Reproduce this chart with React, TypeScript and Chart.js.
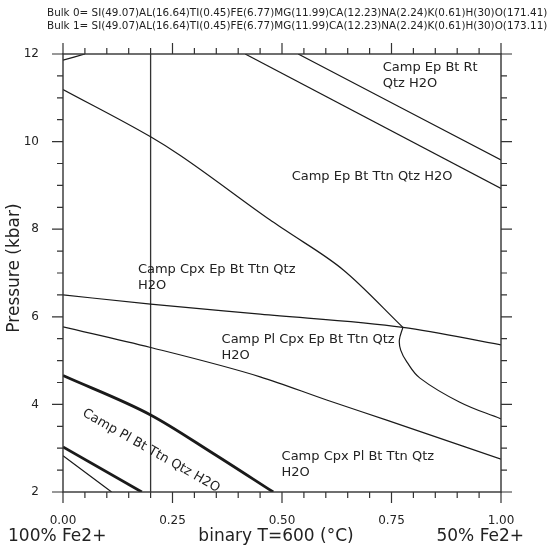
import React, { useEffect, useRef } from "react";
import { Chart, registerables } from "chart.js";

Chart.register(...registerables);

// ---------- axis ranges & ticks ----------
const xRange = [0, 1];
const yRange = [2, 12];
const xTickStep = 0.05;
const yTickStep = 0.5;
const xLabelEvery = 0.25;
const yLabelEvery = 2;

// ---------- texts ----------
const headerLines = [
  "Bulk 0= SI(49.07)AL(16.64)TI(0.45)FE(6.77)MG(11.99)CA(12.23)NA(2.24)K(0.61)H(30)O(171.41)",
  "Bulk 1= SI(49.07)AL(16.64)TI(0.45)FE(6.77)MG(11.99)CA(12.23)NA(2.24)K(0.61)H(30)O(173.11)",
];
const xAxisTitle = "binary T=600 (°C)";
const yAxisTitle = "Pressure (kbar)";
const leftEndLabel = "100% Fe2+";
const rightEndLabel = "50% Fe2+";

// ---------- phase boundaries (x = composition, y = P kbar) ----------
const b1X = [0, 0.05];
const b1Y = [11.86, 12.0];

const b2X = [0, 0.2, 0.267, 0.473, 0.507, 0.64, 0.776];
const b2Y = [11.19, 10.11, 9.69, 8.21, 7.98, 7.07, 5.76];

const b3X = [0.416, 1.0];
const b3Y = [12.0, 8.93];

const b4X = [0.537, 1.0];
const b4Y = [12.0, 9.58];

const b5X = [0, 0.2, 0.45, 0.776, 1.0];
const b5Y = [6.5, 6.29, 6.06, 5.76, 5.36];

const b6X = [0.776, 0.768, 0.771, 0.785, 0.815, 0.906, 1.0];
const b6Y = [5.76, 5.47, 5.24, 4.97, 4.6, 4.05, 3.67];

const b7X = [0, 0.2, 0.45, 0.602, 0.739, 1.0];
const b7Y = [5.77, 5.3, 4.63, 4.1, 3.64, 2.75];

const b8X = [0, 0.2, 0.343, 0.48];
const b8Y = [4.66, 3.76, 2.88, 2.0];

const b9X = [0, 0.18];
const b9Y = [3.03, 2.0];

const b10X = [0, 0.111];
const b10Y = [2.83, 2.0];

const sectionX = [0.2, 0.2];
const sectionY = [2, 12];

// ---------- field labels ----------
const fieldText = [
  "Camp Ep Bt Rt\nQtz H2O",
  "Camp Ep Bt Ttn Qtz H2O",
  "Camp Cpx Ep Bt Ttn Qtz\nH2O",
  "Camp Pl Cpx Ep Bt Ttn Qtz\nH2O",
  "Camp Cpx Pl Bt Ttn Qtz\nH2O",
  "Camp Pl Bt Ttn Qtz H2O",
];
const fieldX = [0.73, 0.522, 0.171, 0.362, 0.499, 0.201];
const fieldY = [11.68, 9.2, 7.07, 5.47, 2.8, 2.94];
const fieldAngle = [0, 0, 0, 0, 0, 29.6];

const toPts = (xs: number[], ys: number[]) => xs.map((x, i) => ({ x, y: ys[i] }));

const FONT = "'DejaVu Sans', sans-serif";
const INK = "#222";

const overlay = {
  id: "overlay",
  afterDraw(chart: any) {
    const { ctx, chartArea: a, scales } = chart;
    const xs = scales.x;
    const ys = scales.y;
    ctx.save();
    // frame
    ctx.strokeStyle = "#333";
    ctx.lineWidth = 1.4;
    ctx.strokeRect(a.left, a.top, a.right - a.left, a.bottom - a.top);
    // tick marks
    ctx.lineWidth = 1.2;
    ctx.beginPath();
    xs.ticks.forEach((t: any) => {
      const px = xs.getPixelForValue(t.value);
      const major = Math.abs(t.value / xLabelEvery - Math.round(t.value / xLabelEvery)) < 1e-6;
      const len = major ? 11 : 6;
      ctx.moveTo(px, a.bottom);
      ctx.lineTo(px, a.bottom + len);
      ctx.moveTo(px, a.top);
      ctx.lineTo(px, a.top - len);
    });
    ys.ticks.forEach((t: any) => {
      const py = ys.getPixelForValue(t.value);
      const major = Math.abs(t.value / yLabelEvery - Math.round(t.value / yLabelEvery)) < 1e-6;
      const len = major ? 11 : 6;
      ctx.moveTo(a.left, py);
      ctx.lineTo(a.left - len, py);
      ctx.moveTo(a.right, py);
      ctx.lineTo(a.right + len, py);
    });
    ctx.stroke();

    ctx.fillStyle = INK;
    // header
    ctx.font = `10.4px ${FONT}`;
    ctx.textBaseline = "middle";
    ctx.textAlign = "left";
    headerLines.forEach((l, i) => ctx.fillText(l, 47, 13 + i * 13));

    // axis titles
    ctx.font = `17px ${FONT}`;
    ctx.textAlign = "center";
    ctx.fillText(xAxisTitle, 276, 537);
    ctx.textAlign = "left";
    ctx.fillText(leftEndLabel, 8, 537);
    ctx.textAlign = "right";
    ctx.fillText(rightEndLabel, 524, 537);
    ctx.save();
    ctx.translate(15, 268);
    ctx.rotate(-Math.PI / 2);
    ctx.textAlign = "center";
    ctx.fillText(yAxisTitle, 0, 0);
    ctx.restore();

    // field labels
    ctx.font = `13px ${FONT}`;
    fieldText.forEach((txt, i) => {
      const px = xs.getPixelForValue(fieldX[i]);
      const py = ys.getPixelForValue(fieldY[i]);
      const lines = txt.split("\n");
      ctx.save();
      ctx.translate(px, py);
      if (fieldAngle[i]) {
        ctx.rotate((fieldAngle[i] * Math.PI) / 180);
        ctx.textAlign = "center";
      } else {
        ctx.textAlign = "left";
      }
      lines.forEach((l, j) => ctx.fillText(l, 0, j * 16));
      ctx.restore();
    });
    ctx.restore();
  },
};

export default function App() {
  const ref = useRef<HTMLCanvasElement | null>(null);
  useEffect(() => {
    if (!ref.current) return;
    const thin = (xs: number[], ys: number[], smooth = true) => ({
      data: toPts(xs, ys),
      showLine: true,
      borderColor: "#1a1a1a",
      borderWidth: 1.2,
      pointRadius: 0,
      cubicInterpolationMode: smooth ? "monotone" : "default",
      tension: smooth ? 0 : 0.4,
      fill: false,
    });
    const thick = (xs: number[], ys: number[]) => ({
      ...thin(xs, ys),
      borderWidth: 2.8,
    });
    const chart = new Chart(ref.current, {
      type: "scatter",
      data: {
        datasets: [
          thin(b1X, b1Y),
          thin(b2X, b2Y),
          thin(b3X, b3Y),
          thin(b4X, b4Y),
          thin(b5X, b5Y),
          thin(b6X, b6Y, false),
          thin(b7X, b7Y),
          thick(b8X, b8Y),
          thick(b9X, b9Y),
          thin(b10X, b10Y),
          { ...thin(sectionX, sectionY), cubicInterpolationMode: "default", borderColor: "#333", borderWidth: 1.3 },
        ] as any,
      },
      options: {
        responsive: false,
        animation: false,
        devicePixelRatio: 1,
        layout: { padding: { top: 54, right: 48, left: 0, bottom: 0 } },
        plugins: { legend: { display: false }, tooltip: { enabled: false } },
        scales: {
          x: {
            type: "linear",
            min: xRange[0],
            max: xRange[1],
            grid: { display: false },
            border: { display: false },
            afterFit: (s: any) => {
              s.height = 55;
            },
            ticks: {
              stepSize: xTickStep,
              autoSkip: false,
              maxRotation: 0,
              padding: 14,
              color: INK,
              font: { family: FONT, size: 12 },
              callback: (v: any) => {
                const n = Number(v);
                return Math.abs(n / xLabelEvery - Math.round(n / xLabelEvery)) < 1e-6 ? n.toFixed(2) : "";
              },
            },
          },
          y: {
            type: "linear",
            min: yRange[0],
            max: yRange[1],
            grid: { display: false },
            border: { display: false },
            afterFit: (s: any) => {
              s.width = 63;
            },
            ticks: {
              stepSize: yTickStep,
              autoSkip: false,
              padding: 16,
              color: INK,
              font: { family: FONT, size: 12 },
              callback: (v: any) => {
                const n = Number(v);
                return Math.abs(n / yLabelEvery - Math.round(n / yLabelEvery)) < 1e-6 ? String(Math.round(n)) : "";
              },
            },
          },
        },
      },
      plugins: [overlay],
    });
    return () => chart.destroy();
  }, []);
  return (
    <div style={{ position: "absolute", left: 0, top: 0, width: 549, height: 547, background: "#fff" }}>
      <canvas ref={ref} width={549} height={547} style={{ display: "block" }} />
    </div>
  );
}
